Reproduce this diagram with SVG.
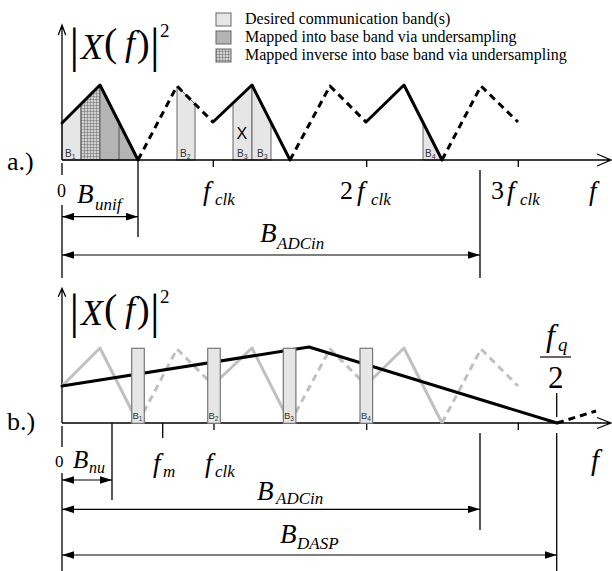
<svg xmlns="http://www.w3.org/2000/svg" width="612" height="571" viewBox="0 0 612 571">
<style>
.ax{stroke:#000;stroke-width:1.3;fill:none}
.arr{stroke:#000;stroke-width:1.2;fill:none;marker-start:url(#ah);marker-end:url(#ah)}
.cv{stroke:#000;stroke-width:3;fill:none;stroke-linecap:round;stroke-linejoin:round}
.dash{stroke-dasharray:7 5;stroke-linecap:butt}
.gcv{stroke:#c0c0c0;stroke-width:3;fill:none;stroke-linejoin:round}
.light{fill:#e6e6e6;stroke:#666;stroke-width:1}
.gray{fill:#b4b4b4;stroke:#666;stroke-width:1}
.hatch{fill:url(#grid);stroke:#666;stroke-width:1}
.box{fill:#e6e6e6;stroke:#777;stroke-width:1.2}
.t{font-family:"Liberation Serif","Times New Roman",serif;fill:#000}
.i{font-style:italic}
.s{font-family:"Liberation Sans",Arial,sans-serif;fill:#333}
.xs{font-family:"Liberation Sans",Arial,sans-serif;fill:#000}
</style>
<defs>
<marker id="ah" markerWidth="12" markerHeight="8" refX="12" refY="3.8" orient="auto-start-reverse" markerUnits="userSpaceOnUse"><path d="M0,0 L12,3.8 L0,7.6 z" fill="#000"/></marker>
<pattern id="grid" width="3" height="3" patternUnits="userSpaceOnUse"><rect width="3" height="3" fill="#d0d0d0"/><path d="M0,0 H3 M0,0 V3" stroke="#555" stroke-width="0.8"/></pattern>
</defs>

<g id="legend">
<rect x="216" y="13" width="15" height="13" class="light"/>
<rect x="216" y="31" width="15" height="13" class="gray"/>
<rect x="216" y="49" width="15" height="13" class="hatch"/>
<text class="t" x="245" y="23.5" font-size="16">Desired communication band(s)</text>
<text class="t" x="245" y="42" font-size="16">Mapped into base band via undersampling</text>
<text class="t" x="245" y="60" font-size="16">Mapped inverse into base band via undersampling</text>
</g>

<g id="panel-a">
<g id="bands-a">
<polygon class="light" points="62,160 62,123 81,104 81,160"/>
<polygon class="hatch" points="81,160 81,104 100,85 100,160"/>
<polygon class="gray" points="100,160 100,85 138,160"/>
<line x1="119" y1="122.5" x2="119" y2="160" stroke="#555" stroke-width="1"/>
<polygon class="light" points="177,160 177,86 195,104 195,160"/>
<polygon class="light" points="233,160 233,103 252,85 252,160"/>
<polygon class="light" points="252,160 252,85 271,122.5 271,160"/>
<polygon class="light" points="423,160 423,122.5 442,160"/>
<text class="s" x="65" y="157" font-size="10">B<tspan font-size="7" dy="2">1</tspan></text>
<text class="s" x="180" y="157" font-size="10">B<tspan font-size="7" dy="2">2</tspan></text>
<text class="s" x="237" y="157" font-size="10">B<tspan font-size="7" dy="2">3</tspan></text>
<text class="s" x="257" y="157" font-size="10">B<tspan font-size="7" dy="2">3</tspan></text>
<text class="s" x="425" y="157" font-size="10">B<tspan font-size="7" dy="2">4</tspan></text>
<text class="xs" x="236.5" y="139" font-size="16">X</text>
</g>
<g id="axes-a">
<path class="ax" d="M62,160 V25 M58.3,35 L62,25 L65.7,35"/>
<path class="ax" d="M62,160 H611 M597,154 L611,160 L597,166"/>
<path class="ax" d="M62,163 V175 M62,205 V278 M138,160 V237 M480,170 V278 M213.3,160 V167 M366.7,160 V167 M518.3,160 V167"/>
</g>
<g id="curves-a">
<path class="cv" d="M62,123 L100,85 L138,160"/>
<path class="cv dash" d="M138,160 L177,86 L213,122"/>
<path class="cv" d="M213,122 L252,85 L290,160"/>
<path class="cv dash" d="M290,160 L330,86 L366,122"/>
<path class="cv" d="M366,122 L404,85 L442,160"/>
<path class="cv dash" d="M442,160 L481,86 L518,122"/>
</g>
<g id="ylabel-a">
<text class="t" x="69.5" y="62" font-size="48">|</text>
<text class="t i" x="81" y="59" font-size="36">X</text>
<text class="t" x="104" y="56" font-size="40">(</text>
<text class="t i" x="125" y="55" font-size="36">f</text>
<text class="t" x="137" y="56" font-size="38">)</text>
<text class="t" x="150" y="62" font-size="48">|</text>
<text class="t" x="160" y="37" font-size="19">2</text>
</g>
<text class="t" x="7" y="170" font-size="26">a.)</text>
<g id="dims-a">
<line class="arr" x1="62" y1="216.7" x2="138" y2="216.7"/>
<line class="arr" x1="62" y1="255" x2="480" y2="255"/>
<text class="t" x="57" y="197" font-size="18">0</text>
<text class="t i" x="77" y="203" font-size="27">B</text>
<text class="t i" x="95" y="210" font-size="17">unif</text>
<text class="t i" x="203" y="200" font-size="27">f</text>
<text class="t i" x="215" y="205" font-size="17">clk</text>
<text class="t" x="340" y="199" font-size="26">2</text>
<text class="t i" x="357" y="200" font-size="27">f</text>
<text class="t i" x="371" y="205" font-size="17">clk</text>
<text class="t" x="491" y="199" font-size="26">3</text>
<text class="t i" x="507" y="200" font-size="27">f</text>
<text class="t i" x="520" y="205" font-size="17">clk</text>
<text class="t i" x="589" y="200" font-size="27">f</text>
<text class="t i" x="260" y="242" font-size="27">B</text>
<text class="t i" x="277" y="249" font-size="17">ADCin</text>
</g>
</g>

<g id="panel-b">
<g id="axes-b">
<path class="ax" d="M62,423 V288.3 M58.3,296.7 L62,288.3 L65.7,296.7"/>
<path class="ax" d="M62,423 H611 M597,417.5 L611,423 L597,428.5"/>
<path class="ax" d="M62,426 V447 M62,473 V571 M112,423 V500 M162.7,423 V438 M214,423 V430 M366.7,423 V430 M518.3,423 V430 M480,433 V530 M556.7,433 V571 M556.7,393 V417"/>
</g>
<g id="curves-b">
<path class="gcv" d="M62,386 L100,348 L138,423"/>
<path class="gcv dash" d="M138,423 L177,349 L213,385"/>
<path class="gcv" d="M213,385 L252,348 L290,423"/>
<path class="gcv dash" d="M290,423 L330,349 L366,385"/>
<path class="gcv" d="M366,385 L404,348 L442,423"/>
<path class="gcv dash" d="M442,423 L481,349 L518,386"/>
<path class="cv" d="M62,386 L309,347 L557,423"/>
<path class="cv dash" d="M557,423 L596,411"/>
</g>
<g id="boxes-b">
<rect class="box" x="131.7" y="348.3" width="12.6" height="75"/>
<rect class="box" x="207.7" y="348.3" width="12.6" height="75"/>
<rect class="box" x="283.3" y="348.3" width="12.6" height="75"/>
<rect class="box" x="360" y="348.3" width="12.6" height="75"/>
<text class="s" x="132.5" y="419" font-size="9.5">B<tspan font-size="6.5" dy="2">1</tspan></text>
<text class="s" x="208.5" y="419" font-size="9.5">B<tspan font-size="6.5" dy="2">2</tspan></text>
<text class="s" x="284" y="419" font-size="9.5">B<tspan font-size="6.5" dy="2">3</tspan></text>
<text class="s" x="361" y="419" font-size="9.5">B<tspan font-size="6.5" dy="2">4</tspan></text>
</g>
<g id="ylabel-b" transform="translate(0,266)">
<text class="t" x="69.5" y="62" font-size="48">|</text>
<text class="t i" x="81" y="59" font-size="36">X</text>
<text class="t" x="104" y="56" font-size="40">(</text>
<text class="t i" x="125" y="55" font-size="36">f</text>
<text class="t" x="137" y="56" font-size="38">)</text>
<text class="t" x="150" y="62" font-size="48">|</text>
<text class="t" x="160" y="37" font-size="19">2</text>
</g>
<text class="t" x="7" y="430" font-size="26">b.)</text>
<g id="fq2">
<text class="t i" x="546" y="346" font-size="32">f</text>
<text class="t i" x="558" y="351" font-size="19">q</text>
<line x1="540" y1="357" x2="571" y2="357" stroke="#000" stroke-width="1.2"/>
<text class="t" x="548" y="388" font-size="31">2</text>
</g>
<g id="dims-b">
<line class="arr" x1="62" y1="480" x2="112" y2="480"/>
<line class="arr" x1="62" y1="509.3" x2="480" y2="509.3"/>
<line class="arr" x1="62" y1="555" x2="556.7" y2="555"/>
<text class="t" x="55" y="467" font-size="17">0</text>
<text class="t i" x="73" y="468" font-size="25">B</text>
<text class="t i" x="89" y="473" font-size="16">nu</text>
<text class="t i" x="153" y="472" font-size="27">f</text>
<text class="t i" x="163" y="477" font-size="17">m</text>
<text class="t i" x="205" y="472" font-size="27">f</text>
<text class="t i" x="215" y="477" font-size="17">clk</text>
<text class="t i" x="591" y="470" font-size="29">f</text>
<text class="t i" x="257" y="500" font-size="27">B</text>
<text class="t i" x="276" y="504" font-size="17">ADCin</text>
<text class="t i" x="280" y="543" font-size="27">B</text>
<text class="t i" x="297" y="549" font-size="17">DASP</text>
</g>
</g>
</svg>
